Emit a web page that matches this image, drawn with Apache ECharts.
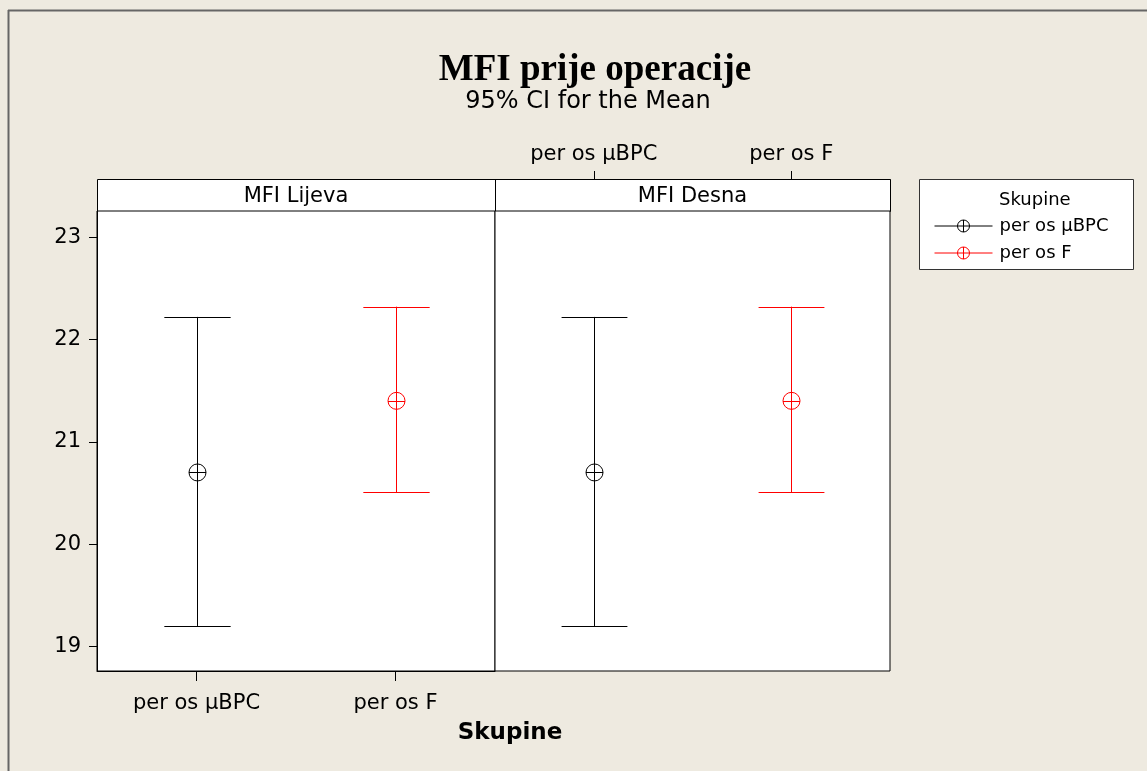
<!DOCTYPE html>
<html>
<head>
<meta charset="utf-8">
<script src="https://cdn.jsdelivr.net/npm/echarts@6/dist/echarts.min.js"></script>
<style>
html,body{margin:0;padding:0;background:#EEEAE0;}
#chart{width:1147px;height:771px;}
</style>
</head>
<body>
<div id="chart"></div>
<script>
// ---- data ----
const chartTitle = 'MFI prije operacije';
const chartSubtitle = '95% CI for the Mean';
const panels = ['MFI Lijeva', 'MFI Desna'];
const groups = ['per os µBPC', 'per os F'];
const groupColors = ['#000000', '#FF0000'];
const yTicks = [19, 20, 21, 22, 23];
const xAxisName = 'Skupine';
const legendTitle = 'Skupine';
// per panel, per group
const leftMean  = [20.70, 21.40];
const leftLower = [19.20, 20.505];
const leftUpper = [22.22, 22.32];
const rightMean  = [20.70, 21.40];
const rightLower = [19.20, 20.505];
const rightUpper = [22.22, 22.32];

const panelData = [
  {mean: leftMean, lower: leftLower, upper: leftUpper},
  {mean: rightMean, lower: rightLower, upper: rightUpper}
];

const FONT = '"DejaVu Sans", Verdana, sans-serif';
const yMin = 18.76, yMax = 23.255;

const chart = echarts.init(document.getElementById('chart'), null, {renderer: 'canvas'});

function renderItem(params, api) {
  const cat = api.value(0);
  const pMean = api.coord([cat, api.value(1)]);
  const pLo = api.coord([cat, api.value(2)]);
  const pHi = api.coord([cat, api.value(3)]);
  const band = api.size([1, 0])[0];
  const half = band / 6;
  const x = Math.round(pMean[0]) + 0.5;
  const color = api.visual('color');
  const st = {stroke: color, lineWidth: 1, fill: null};
  const r = 8.5;
  return {
    type: 'group',
    children: [
      {type: 'line', shape: {x1: x, y1: pHi[1], x2: x, y2: pLo[1]}, style: st},
      {type: 'line', shape: {x1: x - half, y1: Math.round(pHi[1]) + 0.5, x2: x + half, y2: Math.round(pHi[1]) + 0.5}, style: st},
      {type: 'line', shape: {x1: x - half, y1: Math.round(pLo[1]) + 0.5, x2: x + half, y2: Math.round(pLo[1]) + 0.5}, style: st},
      {type: 'circle', shape: {cx: x, cy: pMean[1], r: r}, style: {stroke: color, lineWidth: 1, fill: 'none'}},
      {type: 'line', shape: {x1: x - r, y1: Math.round(pMean[1]) + 0.5, x2: x + r, y2: Math.round(pMean[1]) + 0.5}, style: st}
    ]
  };
}

const series = [];
panelData.forEach((pd, p) => {
  groups.forEach((g, i) => {
    series.push({
      type: 'custom',
      name: g,
      xAxisIndex: p,
      yAxisIndex: p,
      itemStyle: {color: groupColors[i]},
      renderItem: renderItem,
      encode: {x: 0, y: [1, 2, 3]},
      data: [[i, pd.mean[i], pd.lower[i], pd.upper[i]]],
      silent: true
    });
  });
});

const legendIcon = 'path://M0,6 L58,6 M23,6 A6,6 0 1,1 35,6 A6,6 0 1,1 23,6 M29,0 L29,12';

const gridTop = 211, gridBottom = 100;
const stripH = 32;
const leftX = 97, midX = 495, rightX = 890;

const option = {
  backgroundColor: '#EEEAE0',
  animation: false,
  grid: [
    {left: leftX, right: 1147 - midX, top: gridTop, bottom: gridBottom, show: true, backgroundColor: '#fff', borderColor: '#000', borderWidth: 1},
    {left: midX, right: 1147 - rightX, top: gridTop, bottom: gridBottom, show: true, backgroundColor: '#fff', borderColor: '#000', borderWidth: 1}
  ],
  xAxis: [
    {
      type: 'category', gridIndex: 0, data: groups, position: 'bottom', boundaryGap: true,
      axisLine: {show: true, lineStyle: {color: '#000', width: 1}},
      axisTick: {show: true, interval: 0, alignWithLabel: true, inside: false, length: 10, lineStyle: {color: '#000', width: 1}},
      axisLabel: {color: '#000', fontSize: 21, fontFamily: FONT, margin: 22, interval: 0},
      splitLine: {show: false}
    },
    {
      type: 'category', gridIndex: 1, data: groups, position: 'top', offset: stripH, boundaryGap: true,
      axisLine: {show: true, lineStyle: {color: '#000', width: 1}},
      axisTick: {show: true, interval: 0, alignWithLabel: true, inside: false, length: 8, lineStyle: {color: '#000', width: 1}},
      axisLabel: {color: '#000', fontSize: 21, fontFamily: FONT, margin: 14, interval: 0},
      splitLine: {show: false},
      z: 10
    }
  ],
  yAxis: [
    {
      type: 'value', gridIndex: 0, min: yMin, max: yMax,
      axisLine: {show: true, lineStyle: {color: '#000'}},
      axisTick: {show: true, length: 8, customValues: yTicks, lineStyle: {color: '#000'}},
      axisLabel: {color: '#000', fontSize: 21, fontFamily: FONT, margin: 16, customValues: yTicks},
      splitLine: {show: false}
    },
    {
      type: 'value', gridIndex: 1, min: yMin, max: yMax,
      axisLine: {show: false}, axisTick: {show: false}, axisLabel: {show: false},
      splitLine: {show: false}
    }
  ],
  legend: {
    orient: 'vertical',
    left: 929,
    top: 212,
    itemWidth: 58,
    itemHeight: 12,
    itemGap: 9,
    selectedMode: false,
    textStyle: {color: '#000', fontSize: 18, fontFamily: FONT, lineHeight: 18, padding: [0, 0, 0, 2]},
    data: groups.map((g, i) => ({
      name: g,
      icon: legendIcon,
      itemStyle: {color: 'rgba(0,0,0,0)', borderColor: groupColors[i], borderWidth: 1}
    }))
  },
  graphic: [
    // outer frame (top & left edges)
    {type: 'line', shape: {x1: 8, y1: 10.5, x2: 1147, y2: 10.5}, style: {stroke: '#666', lineWidth: 2}, z: 100},
    {type: 'line', shape: {x1: 8.5, y1: 10, x2: 8.5, y2: 771}, style: {stroke: '#666', lineWidth: 2}, z: 100},
    // titles
    {type: 'text', x: 595, y: 70, style: {text: chartTitle, font: 'bold 37px "Liberation Serif", "Times New Roman", serif', fill: '#000', align: 'center', verticalAlign: 'middle'}},
    {type: 'text', x: 588, y: 102, style: {text: chartSubtitle, font: '24px ' + FONT, fill: '#000', align: 'center', verticalAlign: 'middle'}},
    // panel strips
    {type: 'rect', z: -10, shape: {x: leftX + 0.5, y: 179.5, width: midX - leftX, height: stripH}, style: {fill: '#fff', stroke: '#000', lineWidth: 1}},
    {type: 'rect', z: -10, shape: {x: midX + 0.5, y: 179.5, width: rightX - midX, height: stripH}, style: {fill: '#fff', stroke: '#000', lineWidth: 1}},
    {type: 'text', x: (leftX + midX) / 2, y: 197, style: {text: panels[0], font: '21px ' + FONT, fill: '#000', align: 'center', verticalAlign: 'middle'}},
    {type: 'text', x: (midX + rightX) / 2, y: 197, style: {text: panels[1], font: '21px ' + FONT, fill: '#000', align: 'center', verticalAlign: 'middle'}},
    // x axis name
    {type: 'text', x: 510, y: 733, style: {text: xAxisName, font: 'bold 23px ' + FONT, fill: '#000', align: 'center', verticalAlign: 'middle'}},
    // legend box
    {type: 'rect', shape: {x: 919.5, y: 179.5, width: 214, height: 90}, style: {fill: '#fff', stroke: '#333', lineWidth: 1}, z: -1},
    {type: 'text', x: 999, y: 200, style: {text: legendTitle, font: '18px ' + FONT, fill: '#000', align: 'left', verticalAlign: 'middle'}}
  ],
  series: series
};
chart.setOption(option);
</script>
</body>
</html>
